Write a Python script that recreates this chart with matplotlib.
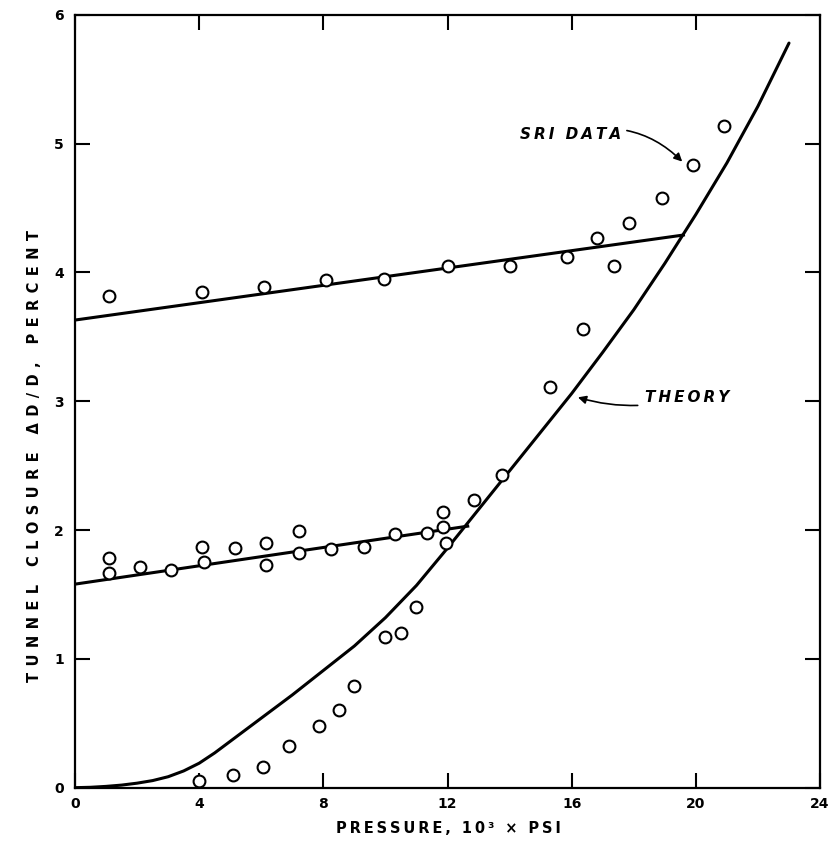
import matplotlib

matplotlib.use("Agg")
import matplotlib.pyplot as plt

# SRI test data
sri_x = [1.1, 4.1, 6.1, 8.1, 9.95, 12.0, 14.0, 15.85, 16.8, 17.35, 17.85, 18.9, 19.9, 20.9,
         1.1, 1.1, 2.1, 3.1, 4.1, 4.15, 5.15, 6.15, 6.15, 7.2, 7.2, 8.25, 9.3, 10.3,
         11.35, 11.85, 11.85, 11.95, 12.85, 13.75, 15.3, 16.35,
         4.0, 5.1, 6.05, 6.9, 7.85, 8.5, 9.0, 10.0, 10.5, 11.0]
sri_y = [3.82, 3.85, 3.89, 3.94, 3.95, 4.05, 4.05, 4.12, 4.27, 4.05, 4.38, 4.58, 4.83, 5.14,
         1.78, 1.67, 1.71, 1.69, 1.87, 1.75, 1.86, 1.90, 1.73, 1.99, 1.82, 1.85, 1.87, 1.97,
         1.98, 2.14, 2.02, 1.90, 2.23, 2.43, 3.11, 3.56,
         0.05, 0.10, 0.16, 0.32, 0.48, 0.60, 0.79, 1.17, 1.20, 1.40]

# theory curve
theory_x = [0, 0.5, 1, 1.5, 2, 2.5, 3, 3.5, 4, 4.5, 5, 5.5, 6, 7, 8, 9, 10, 11, 12,
            13, 14, 15, 16, 17, 18, 19, 20, 21, 22, 23]
theory_y = [0.0, 0.003, 0.01, 0.02, 0.035, 0.055, 0.085, 0.13, 0.19, 0.27, 0.36, 0.45,
            0.54, 0.72, 0.91, 1.10, 1.32, 1.57, 1.86, 2.16, 2.46, 2.76, 3.06, 3.38,
            3.71, 4.07, 4.45, 4.85, 5.29, 5.78]

# straight fits through the two elastic branches
upper_x = [0, 19.6]
upper_y = [3.63, 4.29]
lower_x = [0, 12.65]
lower_y = [1.58, 2.03]

x_ticks = [0, 4, 8, 12, 16, 20, 24]
y_ticks = [0, 1, 2, 3, 4, 5, 6]

THIN = "\u2009"
WIDE = "\u2004\u200a"


def spaced(text, gap):
    return gap.join(text)


plt.rcParams["font.family"] = ["DejaVu Sans"]

fig = plt.figure(figsize=(8.3, 8.52), dpi=100)
ax = fig.add_axes([0.0904, 0.0755, 0.8976, 0.9072])

ax.plot(theory_x, theory_y, color="black", lw=2.2, solid_capstyle="round",
        solid_joinstyle="round")
ax.plot(upper_x, upper_y, color="black", lw=2.2)
ax.plot(lower_x, lower_y, color="black", lw=2.2)
ax.plot(sri_x, sri_y, ls="none", marker="o", ms=8.5, mfc="white", mec="black", mew=1.5)

ax.set_xlim(0, 24)
ax.set_ylim(0, 6)
ax.set_xticks(x_ticks)
ax.set_yticks(y_ticks)
ax.tick_params(direction="in", length=11, width=1.5, top=True, right=True,
               labelsize=10)
ax.tick_params(axis="x", pad=7)
ax.tick_params(axis="y", pad=8)
for lab in ax.get_xticklabels() + ax.get_yticklabels():
    lab.set_fontweight("bold")
for sp in ax.spines.values():
    sp.set_linewidth(1.6)

fig.text(0.54, 0.027, spaced("PRESSURE, 10³ × PSI", THIN), ha="center", va="center",
         fontsize=10.5, fontweight="bold")
fig.text(0.041, 0.465, spaced("TUNNEL CLOSURE ΔD/D, PERCENT", WIDE), ha="center",
         va="center", rotation=90, fontsize=10.5, fontweight="bold")

ax.annotate(spaced("SRI DATA", THIN), xy=(19.56, 4.86), xytext=(17.6, 5.07),
            ha="right", va="center", fontsize=11, fontweight="bold", style="italic",
            arrowprops=dict(arrowstyle="-|>", color="black", lw=1.2, mutation_scale=12,
                            shrinkA=2, shrinkB=0,
                            connectionstyle="arc3,rad=-0.3"))
ax.annotate(spaced("THEORY", THIN), xy=(16.2, 3.03), xytext=(18.35, 3.03),
            ha="left", va="center", fontsize=11, fontweight="bold", style="italic",
            arrowprops=dict(arrowstyle="-|>", color="black", lw=1.2, mutation_scale=12,
                            shrinkA=3, shrinkB=0,
                            connectionstyle="arc3,rad=-0.15"))

fig.savefig("out.png", dpi=100)
